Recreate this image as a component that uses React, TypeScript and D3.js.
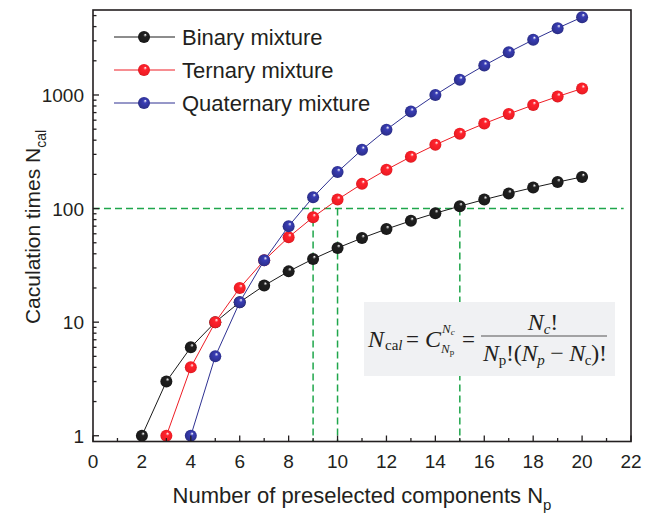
import React from "react";
import * as d3 from "d3";

// number of preselected components
const npBinary = [2, 3, 4, 5, 6, 7, 8, 9, 10, 11, 12, 13, 14, 15, 16, 17, 18, 19, 20];
const npTernary = [3, 4, 5, 6, 7, 8, 9, 10, 11, 12, 13, 14, 15, 16, 17, 18, 19, 20];
const npQuaternary = [4, 5, 6, 7, 8, 9, 10, 11, 12, 13, 14, 15, 16, 17, 18, 19, 20];

// calculation times
const binaryValues = [1, 3, 6, 10, 15, 21, 28, 36, 45, 55, 66, 78, 91, 105, 120, 136, 153, 171, 190];
const ternaryValues = [1, 4, 10, 20, 35, 56, 84, 120, 165, 220, 286, 364, 455, 560, 680, 816, 969, 1140];
const quaternaryValues = [1, 5, 15, 35, 70, 126, 210, 330, 495, 715, 1001, 1365, 1820, 2380, 3060, 3876, 4845];

const seriesNames = ["Binary mixture", "Ternary mixture", "Quaternary mixture"];
const seriesColors = ["#1a1a1a", "#ee1c24", "#2e3192"];
const xTicks = [0, 2, 4, 6, 8, 10, 12, 14, 16, 18, 20, 22];
const yTicks = [1, 10, 100, 1000];
const guideX = [9, 10, 15];
const guideY = 100;

const W = 653, H = 517;
const left = 93, right = 631, top = 10, bottom = 441.5;

export default function App() {
  const x = d3.scaleLinear().domain([0, 22]).range([left, right]);
  const y = d3.scaleLog().domain([0.89, 5600]).range([bottom, top]);

  const series = [
    { name: seriesNames[0], xs: npBinary, ys: binaryValues, color: seriesColors[0] },
    { name: seriesNames[1], xs: npTernary, ys: ternaryValues, color: seriesColors[1] },
    { name: seriesNames[2], xs: npQuaternary, ys: quaternaryValues, color: seriesColors[2] },
  ];

  const line = d3.line<[number, number]>().x(d => x(d[0])).y(d => y(d[1]));

  const minorY: number[] = [];
  for (let p = 0; p <= 3; p++) {
    for (let m = 2; m <= 9; m++) {
      const v = m * Math.pow(10, p);
      if (v < 5600) minorY.push(v);
    }
  }
  const minorX = d3.range(1, 22, 2);

  const font = "Liberation Sans, Arial, sans-serif";
  const serif = "Liberation Serif, Times New Roman, serif";

  return (
    <svg width={W} height={H} style={{ display: "block", position: "absolute", left: 0, top: 0 }}>
      <defs>
        {series.map((s, i) => (
          <radialGradient key={i} id={"ball" + i} cx="0.5" cy="0.5" r="0.6" fx="0.62" fy="0.3">
            <stop offset="0" stopColor="#ffffff" />
            <stop offset="0.25" stopColor={d3.color(s.color)!.brighter(0.6).toString()} />
            <stop offset="0.75" stopColor={s.color} />
            <stop offset="1" stopColor={d3.color(s.color)!.darker(0.8).toString()} />
          </radialGradient>
        ))}
      </defs>
      <rect width={W} height={H} fill="#fff" />

      {/* guide lines */}
      <g stroke="#1fa64b" strokeWidth={1.5} strokeDasharray="7,4" fill="none">
        <line x1={left} x2={x(21.7)} y1={y(guideY)} y2={y(guideY)} />
        {guideX.map(g => (
          <line key={g} x1={x(g)} x2={x(g)} y1={y(guideY)} y2={bottom} />
        ))}
      </g>

      {/* formula box */}
      <g>
        <rect x={364} y={302} width={251} height={74} fill="#f0f1f3" />
        <g fontFamily={serif} fill="#231f20">
          <text x={368} y={347} fontSize={24} fontStyle="italic">N</text>
          <text x={385} y={350} fontSize={15}>ca<tspan fontStyle="italic">l</tspan></text>
          <text x={406} y={347} fontSize={23}>=</text>
          <text x={425} y={347} fontSize={24} fontStyle="italic">C</text>
          <text x={442} y={333} fontSize={13} fontStyle="italic">N<tspan fontSize={9} dy={2}>c</tspan></text>
          <text x={441} y={353} fontSize={13} fontStyle="italic">N<tspan fontSize={9} dy={2} fontStyle="normal">p</tspan></text>
          <text x={462} y={347} fontSize={23}>=</text>
          <text x={543} y={330} fontSize={24} textAnchor="middle"><tspan fontStyle="italic">N</tspan><tspan fontSize={15} dy={4} fontStyle="italic">c</tspan><tspan dy={-4}>!</tspan></text>
          <line x1={481} x2={607} y1={336} y2={336} stroke="#555" strokeWidth={1.2} />
          <text x={483} y={361} fontSize={24} textLength={124} lengthAdjust="spacing"><tspan fontStyle="italic">N</tspan><tspan fontSize={15} dy={4}>p</tspan><tspan dy={-4}>!(</tspan><tspan fontStyle="italic">N</tspan><tspan fontSize={15} dy={4} fontStyle="italic">p</tspan><tspan dy={-4}> − </tspan><tspan fontStyle="italic">N</tspan><tspan fontSize={15} dy={4}>c</tspan><tspan dy={-4}>)!</tspan></text>
        </g>
      </g>

      {/* series */}
      {series.map((s, i) => (
        <g key={s.name}>
          <path d={line(s.xs.map((v, k) => [v, s.ys[k]] as [number, number])) || ""} fill="none" stroke={s.color} strokeWidth={1} />
          {s.xs.map((v, k) => (
            <circle key={k} cx={x(v)} cy={y(s.ys[k])} r={6} fill={`url(#ball${i})`} />
          ))}
        </g>
      ))}

      {/* frame */}
      <rect x={left} y={top} width={right - left} height={bottom - top} fill="none" stroke="#231f20" strokeWidth={1.6} />

      {/* ticks */}
      <g stroke="#231f20" strokeWidth={1.3}>
        {xTicks.map(t => (
          <line key={"mx" + t} x1={x(t)} x2={x(t)} y1={bottom} y2={bottom - 6} />
        ))}
        {minorX.map(t => (
          <line key={"nx" + t} x1={x(t)} x2={x(t)} y1={bottom} y2={bottom - 3.5} />
        ))}
        {yTicks.map(t => (
          <line key={"my" + t} x1={left} x2={left + 6} y1={y(t)} y2={y(t)} />
        ))}
        {minorY.map(t => (
          <line key={"ny" + t} x1={left} x2={left + 3.5} y1={y(t)} y2={y(t)} />
        ))}
      </g>
      <g fontFamily={font} fontSize={19} fill="#231f20">
        {xTicks.map(t => (
          <text key={t} x={x(t)} y={bottom + 26} textAnchor="middle">{t}</text>
        ))}
        {yTicks.map(t => (
          <text key={t} x={left - 9} y={y(t) + 7} textAnchor="end">{t}</text>
        ))}
      </g>

      {/* axis titles */}
      <text x={362} y={503} fontFamily={font} fontSize={22} fill="#231f20" textAnchor="middle">
        Number of preselected components N<tspan fontSize={15} dy={7}>p</tspan>
      </text>
      <text transform={`translate(40,${227}) rotate(-90)`} fontFamily={font} fontSize={21} fill="#231f20" textAnchor="middle">
        Caculation times N<tspan fontSize={14} dy={6}>cal</tspan>
      </text>

      {/* legend */}
      {series.map((s, i) => {
        const ly = 37 + i * 33;
        return (
          <g key={"lg" + i}>
            <line x1={114} x2={175} y1={ly} y2={ly} stroke={s.color} strokeWidth={1} />
            <circle cx={144} cy={ly} r={6} fill={`url(#ball${i})`} />
            <text x={182} y={ly + 8} fontFamily={font} fontSize={22} fill="#231f20">{s.name}</text>
          </g>
        );
      })}
    </svg>
  );
}
